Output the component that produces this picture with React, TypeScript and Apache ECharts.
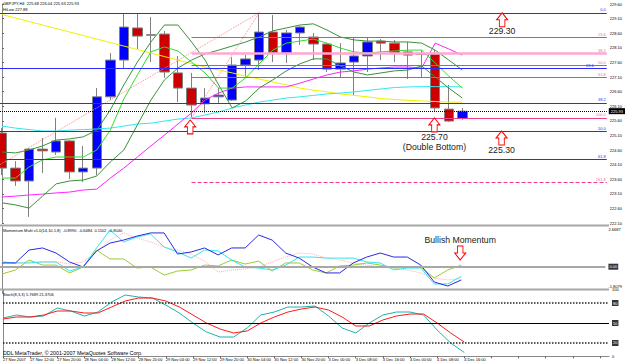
import React, { useEffect, useRef } from "react";
import * as echarts from "echarts";

// ---------- DATA ----------
const barIndex = [0,1,2,3,4,5,6,7,8,9,10,11,12,13,14,15,16,17,18,19,20,21,22,23,24,25,26,27,28,29,30,31,32,33,34];
const xTickLabels = ["27 Nov 2007","27 Nov 12:00","27 Nov 20:00","28 Nov 04:00","28 Nov 12:00","28 Nov 20:00","29 Nov 04:00","29 Nov 12:00","29 Nov 20:00","30 Nov 04:00","30 Nov 12:00","30 Nov 20:00","3 Dec 00:00","3 Dec 08:00","3 Dec 16:00","4 Dec 00:00","4 Dec 08:00","4 Dec 16:00"];

const opens  = [225.18,223.98,223.54,224.63,224.53,224.91,223.85,223.98,226.42,227.68,228.78,228.53,228.57,227.24,226.72,226.18,226.42,226.31,227.51,227.68,228.64,227.92,228.61,228.47,228.23,227.37,227.61,227.82,228.33,228.26,227.96,227.89,227.89,226.00,225.68];
const closes = [223.98,223.54,224.63,224.57,224.91,223.85,223.98,226.42,227.68,228.81,228.50,228.55,227.27,226.72,226.14,226.38,226.48,227.51,227.72,228.64,227.92,228.61,228.81,228.23,227.37,227.58,227.82,228.30,228.26,227.92,227.85,227.87,226.04,225.59,225.93];
const lows   = [223.74,223.37,222.31,223.81,224.43,223.61,223.50,223.74,226.31,227.41,228.06,227.61,227.07,226.24,225.72,225.87,226.21,226.28,227.10,227.34,227.61,227.58,228.20,227.68,227.27,227.10,226.48,227.27,227.68,227.61,227.03,227.10,225.90,225.56,225.63];
const highs  = [225.35,224.22,224.67,225.01,225.70,224.94,224.74,226.72,227.92,229.29,229.29,229.15,228.68,227.82,227.24,226.72,226.72,227.78,227.85,229.30,229.22,228.71,228.85,228.61,228.26,228.26,228.47,228.44,228.40,228.37,228.30,228.02,228.02,226.83,226.04];

const yellowMA  = [229.24,229.12,229.00,228.88,228.76,228.64,228.52,228.40,228.28,228.16,228.04,227.92,227.80,227.68,227.56,227.44,227.34,227.24,227.13,227.03,226.93,226.83,226.72,226.65,226.59,226.52,226.47,226.42,226.36,226.33,226.30,226.28,226.26,226.24,226.24];
const cyanMA    = [225.42,225.35,225.30,225.25,225.25,225.28,225.30,225.32,225.35,225.42,225.49,225.52,225.59,225.66,225.70,225.80,225.90,226.04,226.14,226.24,226.31,226.38,226.42,226.47,226.52,226.55,226.59,226.64,226.69,226.74,226.76,226.77,226.77,226.77,226.76];
const magentaMA = [222.99,223.02,223.06,223.09,223.13,223.16,223.23,223.26,223.64,223.98,224.36,224.74,225.11,225.49,225.87,226.31,226.55,226.72,226.76,226.76,226.76,226.76,226.89,227.03,227.17,227.27,227.31,227.37,227.41,227.44,227.44,227.41,228.26,228.06,227.85];
const lightGreenLine = [223.64,223.64,224.02,224.26,224.36,224.36,224.36,224.60,225.28,226.35,227.17,227.96,228.13,227.99,227.61,227.24,226.72,226.72,227.07,227.55,228.02,228.26,228.33,228.40,228.26,228.09,227.96,227.92,227.96,227.99,228.02,228.02,227.58,227.13,226.72];
const darkGreenFast = [224.53,224.50,224.60,224.74,224.94,224.98,225.05,225.28,225.97,226.83,227.61,228.30,228.88,228.88,228.30,227.68,226.83,226.04,226.28,226.72,227.00,227.31,227.55,227.72,227.72,227.48,227.27,227.17,227.24,227.31,227.34,227.48,227.10,226.72,226.38];
const darkGreenSlow = [222.79,222.72,222.61,223.02,223.44,223.54,223.57,223.71,224.19,224.60,225.46,226.31,227.00,227.41,227.68,227.89,228.02,228.16,228.30,228.47,228.68,228.78,228.88,228.92,228.71,228.47,228.37,228.33,228.33,228.30,228.30,228.26,228.02,227.68,227.34];

const trendBars   = [[-0.147, 19], [14, 19]];
const trendPrices = [[224.10, 229.30], [225.70, 229.30]];

const blueFibLabels = ["0.0","23.6","38.2","50.0","61.8"];
const blueFibPrices = [229.30, 227.39, 226.21, 225.25, 224.29];
const pinkFibLabels = ["23.6","38.2","50.0","61.8","100.0","161.8"];
const pinkFibPrices = [228.45, 227.92, 227.50, 227.08, 225.70, 223.48];
const pinkFibStartBar = 14;
const currentPrice = 225.93;

const momBlue  = [0.25,0.25,1.12,1.26,0.92,0.32,-0.02,1.06,1.59,1.79,2.06,2.27,2.27,0.85,0.99,1.26,0.79,1.26,1.26,2.13,1.79,0.92,0.58,-0.02,-0.42,-0.42,0.25,0.65,0.92,0.65,0.65,0.11,-1.03,-1.30,-0.89];
const momCyan  = [0.32,0.25,0.25,0.32,0.32,-0.29,-0.02,1.26,2.47,1.66,2.00,2.20,1.32,0.99,0.58,1.12,1.06,0.45,-0.02,-0.09,-0.22,0.11,0.65,0.65,0.58,0.58,0.58,0.32,0.25,-0.22,-0.09,-0.09,-1.16,-1.16,-0.65];
const momOlive = [-0.49,-0.22,0.45,0.11,0.11,-0.42,-0.02,1.12,0.52,0.52,-0.09,-0.02,-0.56,-0.29,-0.22,0.11,0.05,0.45,0.18,0.38,-0.29,0.25,0.25,-0.22,-0.42,0.05,0.11,0.25,0.11,-0.09,-0.02,-0.02,-0.76,-0.22,0.11];
const momPink  = [0.32,0.25,0.32,0.32,0.32,0.18,0.32,0.99,1.79,2.27,1.93,1.66,1.32,1.12,0.85,0.38,-0.36,-0.22,-0.15,-0.02,0.32,0.65,0.92,0.85,0.58,0.45,0.25,0.11,-0.02,-0.09,-0.22,-0.42,-0.76,-0.89,-0.80];
const momTicks = [-1.8079, 0, 2.6687];

const stochK = [57.5,62,59,60.5,72.5,68,60.5,66.5,81.5,92,89,87.5,77,65,50,36.5,29,29,42.5,62,66.5,74,74,75.5,60.5,42.5,35,50,62,66.5,66.5,62,39.5,20,5.77];
const stochD = [56,59,59,62,68,68,65,65,74,83,87.5,87.5,83,74,62,50,41,35,38,50,59,66.5,71,74,69.5,59,45.5,45.5,54.5,60.5,63.5,63.5,50,35,21.37];
const stochTicks = [0, 20, 50, 80, 100];
const stochLevels = [80, 50, 20];

const arrowsUp = [[36.94, 229.30], [31.94, 225.70], [13.9, 225.63], [36.9, 225.25]];
const priceNotes = [
  { bar: 36.94, price: 228.68, text: "229.30" },
  { bar: 31.94, price: 225.05, text: "225.70" },
  { bar: 31.94, price: 224.70, text: "(Double Bottom)" },
  { bar: 36.9, price: 224.60, text: "225.30" },
];
const momNote = { bar: 33.92, value: 1.79, text: "Bullish Momentum" };
const momArrowDown = [33.92, 0.45];

// ---------- CHART ----------
const ARROW = "path://M6,0L12,7L9,7L9,14L3,14L3,7L0,7Z";
const FONT = "Liberation Sans";
const X_MIN = -0.147;
const X_MAX = 44.67;

function pairs(values: number[]) {
  return barIndex.map((k, i) => [k, values[i]]);
}

function hiddenX(gridIndex: number) {
  return {
    type: "value", gridIndex, min: X_MIN, max: X_MAX, show: false,
    axisLine: { show: false }, axisTick: { show: false }, axisLabel: { show: false }, splitLine: { show: false },
  };
}

function buildOption(): any {
  const candleData = barIndex.map((k, i) => [k, opens[i], closes[i], lows[i], highs[i]]);
  const mainLine = (values: number[], color: string, width = 1) => ({
    type: "line", xAxisIndex: 0, yAxisIndex: 0, data: pairs(values), symbol: "none",
    lineStyle: { color, width }, z: 3, silent: true,
  });

  const fibMarks: any[] = [];
  blueFibPrices.forEach((p, i) => {
    const lbl = blueFibLabels[i];
    fibMarks.push({
      yAxis: p,
      lineStyle: { color: "#2a2aff", width: 1, type: "solid" },
      label: {
        show: true, position: "insideEndTop",
        formatter: lbl, color: "#2a2aff", fontSize: 4, distance: lbl === "23.6" ? [13, 1] : [1, 1], fontFamily: FONT,
      },
    });
  });
  pinkFibPrices.forEach((p, i) => {
    const lbl = pinkFibLabels[i];
    const isWide = lbl === "38.2";
    const isDashed = lbl === "161.8";
    fibMarks.push([
      {
        coord: [pinkFibStartBar, p],
        lineStyle: { color: isWide ? "#ffa6d2" : "#f03c8c", width: isWide ? 2.5 : 1, type: isDashed ? "dashed" : "solid" },
        label: { show: true, position: "insideEndTop", formatter: lbl, color: "#f06aa8", fontSize: 4, distance: [1, 1], fontFamily: FONT },
      },
      { coord: [X_MAX, p] },
    ]);
  });
  fibMarks.push({
    yAxis: currentPrice,
    lineStyle: { color: "#000", width: 1, type: "dotted" },
    label: { show: true, position: "end", formatter: currentPrice.toFixed(2), color: "#fff", backgroundColor: "#000", fontSize: 4, padding: [1, 2], distance: 2, fontFamily: FONT },
  });

  const arrowStyle = { color: "#fff", borderColor: "#ff0000", borderWidth: 1 };
  const mainMarkPoints: any[] = [];
  arrowsUp.forEach((c) => {
    mainMarkPoints.push({ coord: c, symbol: ARROW, symbolSize: [11, 14], symbolOffset: [0, "50%"], itemStyle: arrowStyle, label: { show: false } });
  });
  priceNotes.forEach((n) => {
    mainMarkPoints.push({
      coord: [n.bar, n.price], symbol: "rect", symbolSize: 1, itemStyle: { color: "rgba(0,0,0,0)" },
      label: { show: true, position: "inside", formatter: n.text, color: "#222", fontSize: 8.7, fontFamily: FONT },
    });
  });

  const tinyLabel = { fontSize: 4, color: "#000", fontFamily: FONT };

  return {
    animation: false,
    backgroundColor: "#ffffff",
    grid: [
      { left: 0, right: 16, top: 4, height: 219 },
      { left: 0, right: 16, top: 227, height: 66.6 },
      { left: 2, right: 16, top: 289.7, height: 66.6 },
    ],
    xAxis: [
      hiddenX(0),
      hiddenX(1),
      {
        type: "value", gridIndex: 2, min: 0, max: X_MAX, interval: 2,
        axisLine: { show: true, onZero: false, lineStyle: { color: "#888", width: 1 } },
        axisTick: { show: true, length: 2, lineStyle: { color: "#666" } },
        axisLabel: {
          ...tinyLabel, margin: 1.5, align: "left", showMaxLabel: false,
          formatter: (v: number) => xTickLabels[Math.round(v / 2)] || "",
        },
        splitLine: { show: false },
      },
    ],
    yAxis: [
      {
        type: "value", gridIndex: 0, position: "right", min: 222.1, max: 229.6, interval: 0.5,
        axisLine: { show: true, lineStyle: { color: "#888" } },
        axisTick: { show: true, length: 2, lineStyle: { color: "#666" } },
        axisLabel: { ...tinyLabel, margin: 3, formatter: (v: number) => v.toFixed(2) },
        splitLine: { show: false },
      },
      {
        type: "value", gridIndex: 1, position: "right", min: -1.8079, max: 2.6687,
        axisLine: { show: true, lineStyle: { color: "#888" } },
        axisTick: { show: false },
        axisLabel: {
          ...tinyLabel, margin: 3, customValues: momTicks,
          formatter: (v: number) => (v === 0 ? "{box|0.00}" : v < 0 ? "{lo|" + v.toFixed(4) + "}" : "{hi|" + v.toFixed(4) + "}"),
          rich: {
            box: { backgroundColor: "#333", color: "#fff", fontSize: 4, padding: [1, 1] },
            lo: { fontSize: 4, padding: [0, 0, 15, 0] },
            hi: { fontSize: 4, padding: [5, 0, 0, 0] },
          },
        },
        splitLine: { show: false },
      },
      {
        type: "value", gridIndex: 2, position: "right", min: 0, max: 100,
        axisLine: { show: true, lineStyle: { color: "#888" } },
        axisTick: { show: false },
        axisLabel: {
          ...tinyLabel, margin: 3, customValues: stochTicks,
          formatter: (v: number) => (stochLevels.indexOf(v) >= 0 ? "{box|" + v + "}" : "{n|" + v + "}"),
          rich: {
            box: { backgroundColor: "#333", color: "#fff", fontSize: 4, padding: [1, 1] },
            n: { fontSize: 4 },
          },
        },
        splitLine: { show: false },
      },
    ],
    graphic: [
      { type: "rect", shape: { x: 0, y: 224.5, width: 609, height: 2 }, style: { fill: "#a8a8a8" }, z: 10 },
      { type: "rect", shape: { x: 0, y: 288.5, width: 609, height: 2 }, style: { fill: "#a8a8a8" }, z: 10 },
      { type: "text", x: 3, y: 1.5, style: { text: "GBPJPY,H4  225.68 226.04 225.63 225.93", fontSize: 4, fill: "#000", fontFamily: FONT }, z: 10 },
      { type: "text", x: 3, y: 7, style: { text: "HiLow 227.88", fontSize: 4, fill: "#000", fontFamily: FONT }, z: 10 },
      { type: "text", x: 3, y: 228, style: { text: "Momentum Multi v1.0(14,10,1,8)  -0.8990  -0.6484  0.1102  -0.8040", fontSize: 4, fill: "#000", fontFamily: FONT }, z: 10 },
      { type: "text", x: 3, y: 292, style: { text: "Stoch(8,3,3) 5.7689 21.3706", fontSize: 4, fill: "#000", fontFamily: FONT }, z: 10 },
      { type: "text", x: 3, y: 350.5, style: { text: "DDL MetaTrader, \u00a9 2001-2007 MetaQuotes Software Corp.", fontSize: 5.3, fill: "#000", fontFamily: FONT }, z: 10 },
    ],
    series: [
      {
        type: "line", xAxisIndex: 0, yAxisIndex: 0, data: [], symbol: "none", z: 1, silent: true,
        markLine: { silent: true, symbol: ["none", "none"], animation: false, data: fibMarks },
      },
      {
        type: "candlestick", xAxisIndex: 0, yAxisIndex: 0, data: candleData, barWidth: 10, z: 2, silent: true,
        encode: { x: 0, y: [1, 2, 3, 4] },
        itemStyle: { color: "#0000ff", color0: "#cc0000", borderColor: "#808080", borderColor0: "#808080", borderWidth: 1 },
        markPoint: { silent: true, animation: false, data: mainMarkPoints },
      },
      mainLine(yellowMA, "#f0f000"),
      mainLine(cyanMA, "#33e6f0"),
      mainLine(magentaMA, "#ff22ff"),
      mainLine(darkGreenSlow, "#3a913a"),
      mainLine(darkGreenFast, "#3a913a"),
      mainLine(lightGreenLine, "#33dd33"),
      ...trendBars.map((tb, i) => ({
        type: "line", xAxisIndex: 0, yAxisIndex: 0, data: [[tb[0], trendPrices[i][0]], [tb[1], trendPrices[i][1]]],
        symbol: "none", lineStyle: { color: "#ff8a8a", width: 1, type: "dotted" }, z: 3, silent: true,
      })),
      {
        type: "line", xAxisIndex: 1, yAxisIndex: 1, data: pairs(momPink), symbol: "none", silent: true,
        lineStyle: { color: "#ffb0b0", width: 1, type: "dotted" }, z: 2,
        markLine: {
          silent: true, symbol: ["none", "none"], animation: false,
          data: [{ yAxis: 0, lineStyle: { color: "#a8a8a8", width: 2, type: "solid" }, label: { show: false } }],
        },
      },
      { type: "line", xAxisIndex: 1, yAxisIndex: 1, data: pairs(momOlive), symbol: "none", silent: true, lineStyle: { color: "#9acd32", width: 1 }, z: 3 },
      { type: "line", xAxisIndex: 1, yAxisIndex: 1, data: pairs(momCyan), symbol: "none", silent: true, lineStyle: { color: "#33e6f0", width: 1 }, z: 3 },
      {
        type: "line", xAxisIndex: 1, yAxisIndex: 1, data: pairs(momBlue), symbol: "none", silent: true, lineStyle: { color: "#2a2ae6", width: 1 }, z: 4,
        markPoint: {
          silent: true, animation: false,
          data: [
            { coord: momArrowDown, symbol: ARROW, symbolSize: [11, 14], symbolRotate: 180, symbolOffset: [0, "-50%"], itemStyle: arrowStyle, label: { show: false } },
            {
              coord: [momNote.bar, momNote.value], symbol: "rect", symbolSize: 1, itemStyle: { color: "rgba(0,0,0,0)" },
              label: { show: true, position: "inside", formatter: momNote.text, color: "#222", fontSize: 8.7, fontFamily: FONT },
            },
          ],
        },
      },
      {
        type: "line", xAxisIndex: 2, yAxisIndex: 2, data: pairs(stochK), symbol: "none", silent: true, lineStyle: { color: "#20b2aa", width: 1 }, z: 3,
        markLine: {
          silent: true, symbol: ["none", "none"], animation: false,
          data: stochLevels.map((lv) => ({
            yAxis: lv, label: { show: false },
            lineStyle: lv === 50 ? { color: "#000", width: 1, type: "solid" } : { color: "#222", width: 1.5, type: "dotted" },
          })),
        },
      },
      { type: "line", xAxisIndex: 2, yAxisIndex: 2, data: pairs(stochD), symbol: "none", silent: true, lineStyle: { color: "#ff1a1a", width: 1 }, z: 3 },
    ],
  };
}

export default function App() {
  const ref = useRef<HTMLDivElement>(null);
  useEffect(() => {
    if (!ref.current) return;
    const chart = echarts.init(ref.current, null, { renderer: "svg" });
    chart.setOption(buildOption());
    return () => chart.dispose();
  }, []);
  return (
    <div
      ref={ref}
      style={{ position: "absolute", left: 0, top: 0, width: 625, height: 364, background: "#ffffff" }}
    />
  );
}
